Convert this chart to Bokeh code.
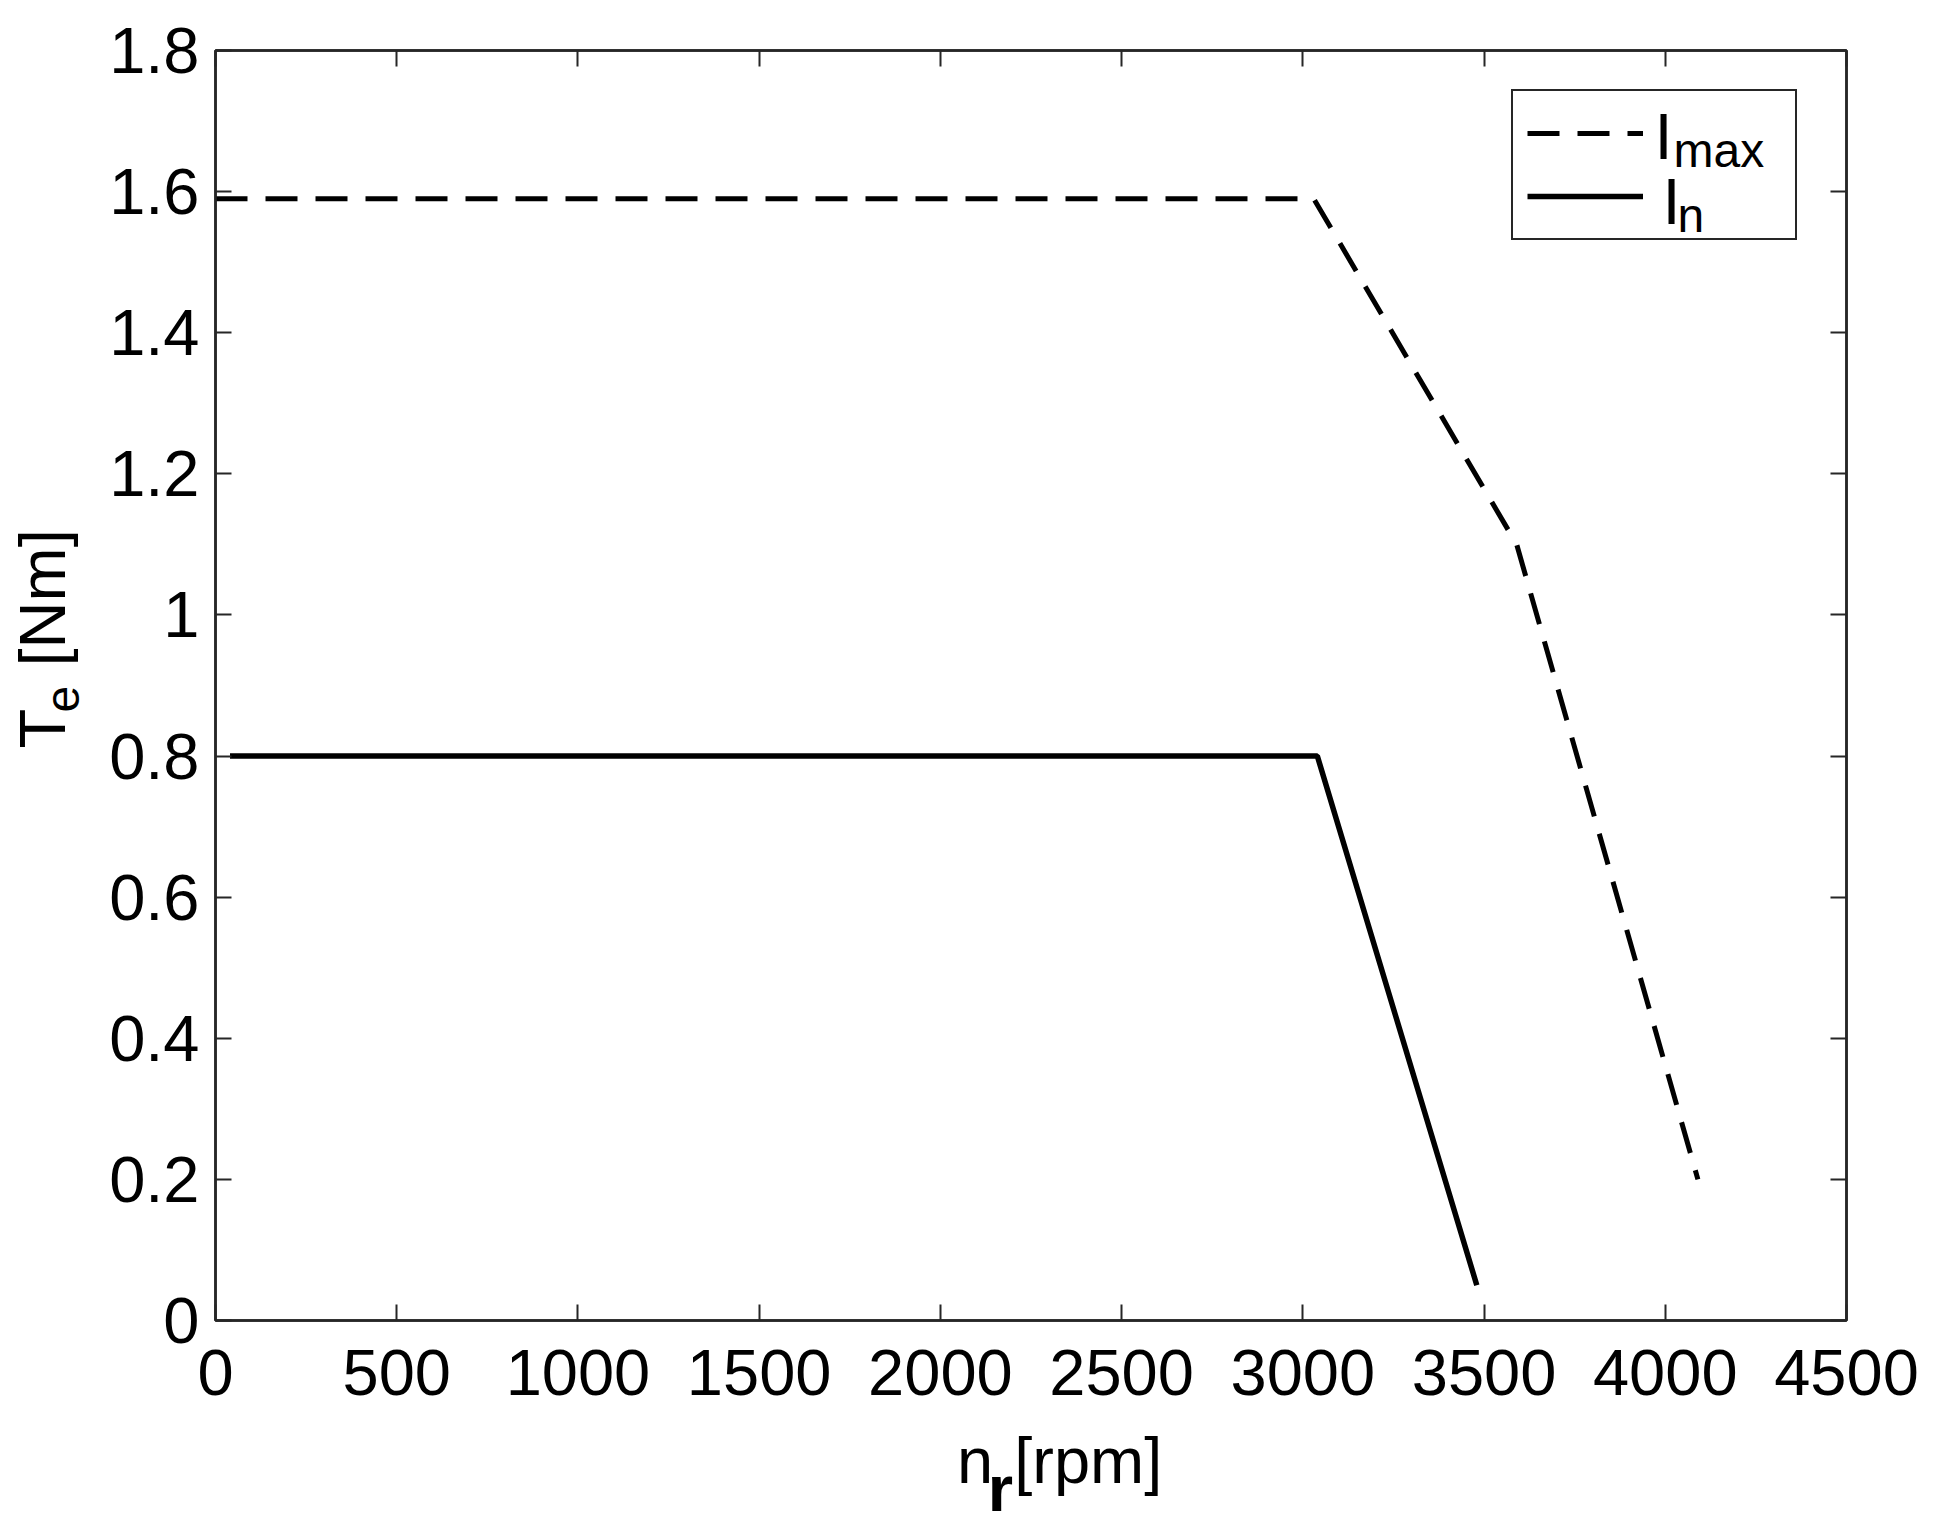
import math
from bokeh.plotting import figure
from bokeh.models import (LinearAxis, Range1d, FixedTicker, CustomJSTickFormatter,
                          Label, Legend, LegendItem)
from bokeh.layouts import row, column
from bokeh.core.properties import value
from bokeh.embed import file_html
from bokeh.resources import INLINE

# ---- data ----
speed_imax = [0, 3030, 3590, 4090]          # n_r [rpm]
torque_imax = [1.59, 1.59, 1.10, 0.20]      # T_e [Nm]
speed_in = [40, 3040, 3480]
torque_in = [0.80, 0.80, 0.05]

x_ticks = [0, 500, 1000, 1500, 2000, 2500, 3000, 3500, 4000, 4500]
y_ticks = [0, 0.2, 0.4, 0.6, 0.8, 1.0, 1.2, 1.4, 1.6, 1.8]

legend_main = ["I", "I"]
legend_sub = ["max", "n"]
x_title = ["n", "r", "[rpm]"]
y_title = ["T", "e", "[Nm]"]

FONT = "Liberation Sans"
AX = "#262626"
FS = 65
SUB = 48

TOTAL_W, TOTAL_H = 1950, 1530
YT_W = 100                      # width of the y-title strip
MAIN_W = TOTAL_W - YT_W
MAIN_H = 1422
XT_H = TOTAL_H - MAIN_H

p = figure(width=MAIN_W, height=MAIN_H, x_range=Range1d(0, 4500), y_range=Range1d(0, 1.8),
           output_backend="svg", toolbar_location=None, title=None,
           x_axis_type=None, y_axis_type=None,
           min_border_left=115, min_border_right=104,
           min_border_top=50, min_border_bottom=102)
p.background_fill_color = "white"
p.border_fill_color = "white"
p.outline_line_color = AX
p.outline_line_width = 2.5


def make_axis(ticks, show_labels=True, formatter=None, standoff=10):
    ax = LinearAxis(ticker=FixedTicker(ticks=ticks))
    ax.major_tick_in = 16
    ax.major_tick_out = 0
    ax.minor_tick_line_color = None
    ax.major_tick_line_color = AX
    ax.major_tick_line_width = 2
    ax.axis_line_color = AX
    ax.axis_line_width = 2.5
    ax.major_label_text_font = FONT
    ax.major_label_text_color = "black"
    if show_labels:
        ax.major_label_text_font_size = f"{FS}px"
        ax.major_label_standoff = standoff
        if formatter is not None:
            ax.formatter = formatter
    else:
        ax.formatter = CustomJSTickFormatter(code="return ''")
        ax.major_label_text_font_size = "1px"
        ax.major_label_standoff = 0
    return ax


p.add_layout(make_axis(x_ticks, standoff=29), "below")
p.add_layout(make_axis(y_ticks, formatter=CustomJSTickFormatter(
    code="return String(Number(tick.toFixed(1)));"), standoff=16), "left")
p.add_layout(make_axis(x_ticks, show_labels=False), "above")
p.add_layout(make_axis(y_ticks, show_labels=False), "right")

r_max = p.line(speed_imax, torque_imax, line_color="black", line_width=5, line_dash="32 18")
r_n = p.line(speed_in, torque_in, line_color="black", line_width=5.5)

legend = Legend(items=[LegendItem(label=value(""), renderers=[r_max]),
                       LegendItem(label=value(""), renderers=[r_n])],
                location=(1296, 1080), orientation="vertical",
                glyph_width=116, glyph_height=56, label_height=56, label_width=126,
                label_standoff=12, padding=14, spacing=7, margin=0,
                border_line_color=AX, border_line_width=2.5, border_line_alpha=1.0,
                background_fill_color="white", background_fill_alpha=0.0,
                label_text_font=FONT, label_text_font_size="1px")
p.add_layout(legend)

BASE_SHIFT = 0.33   # Label centres the text box on its anchor; move it so the anchor is the baseline


def lab(text, x, y, size, angle=0.0, bold=False, dx=0.0, dy=0.0):
    s = BASE_SHIFT * size
    if angle:
        dx -= s
    else:
        dy += s
    return Label(x=x, y=y, x_units="data", y_units="data", x_offset=dx, y_offset=dy,
                 text=text, text_font=FONT, text_font_size=f"{size}px",
                 text_font_style="bold" if bold else "normal",
                 text_align="left", text_baseline="alphabetic",
                 angle=angle, text_color="black", level="overlay")


# legend texts (I with subscripts), offsets from the frame's lower-left corner
p.add_layout(lab(legend_main[0], 0, 0, FS, dx=1439, dy=1163))
p.add_layout(lab(legend_sub[0], 0, 0, SUB, dx=1458, dy=1154))
p.add_layout(lab(legend_main[1], 0, 0, FS, dx=1447, dy=1098))
p.add_layout(lab(legend_sub[1], 0, 0, SUB, dx=1462, dy=1089))


def text_strip(w, h):
    f = figure(width=w, height=h, x_range=Range1d(0, w), y_range=Range1d(0, h),
               output_backend="svg", toolbar_location=None, title=None,
               x_axis_type=None, y_axis_type=None,
               min_border_left=0, min_border_right=0, min_border_top=0, min_border_bottom=0)
    f.outline_line_color = None
    f.background_fill_color = "white"
    f.border_fill_color = "white"
    return f


# x-axis title  n_r[rpm]  (strip below the main plot; pixel coordinates)
xt = text_strip(MAIN_W, XT_H)
xt.add_layout(lab(x_title[0], 841, TOTAL_H - 1481, FS))
xt.add_layout(lab(x_title[1], 876, TOTAL_H - 1509, FS, bold=True))
xt.add_layout(lab(x_title[2], 906, TOTAL_H - 1481, FS))

# y-axis title  T_e [Nm]  (strip left of the main plot; pixel coordinates)
yt = text_strip(YT_W, TOTAL_H)
yt.add_layout(lab(y_title[0], 63, TOTAL_H - 748, FS, angle=math.pi / 2))
yt.add_layout(lab(y_title[1], 78, TOTAL_H - 712, SUB, angle=math.pi / 2))
yt.add_layout(lab(y_title[2], 63, TOTAL_H - 666, FS, angle=math.pi / 2))

layout = row(yt, column(p, xt, spacing=0), spacing=0)

open("out.html", "w").write(file_html(layout, INLINE))
